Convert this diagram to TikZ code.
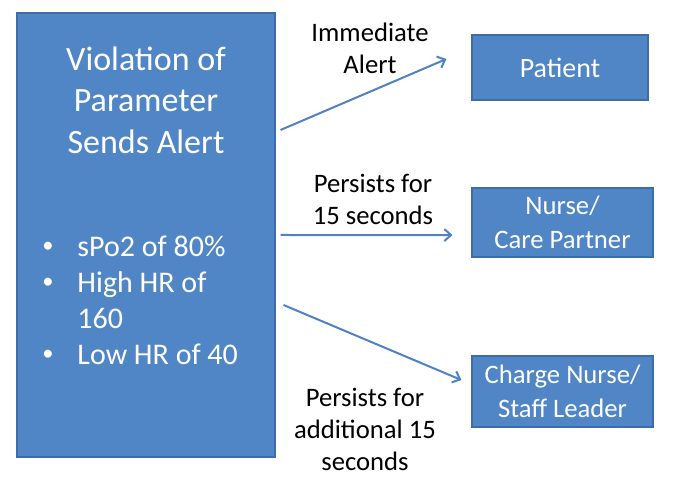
\documentclass[tikz,border=0pt]{standalone}
\usepackage{fontspec}
\setmainfont{Carlito}
\usetikzlibrary{arrows.meta}
\definecolor{boxblue}{RGB}{80,134,198}
\definecolor{boxline}{RGB}{62,108,168}
\definecolor{arrowblue}{RGB}{79,129,195}
\newcommand{\dotmark}{\raisebox{0.12em}{\scalebox{0.75}{\textbullet}}}
\begin{document}
\begin{tikzpicture}[x=0.75pt,y=0.75pt,yscale=-1,xscale=1,
  bluebox/.style={draw=boxline,fill=boxblue,line width=0.8pt,inner sep=0pt,text=white,align=center,font=\fontsize{20}{25}\selectfont},
  flow/.style={draw=arrowblue,line width=1.5pt,-{Straight Barb[length=5pt,width=9pt,line width=1.5pt]}},
  lbl/.style={align=center,inner sep=0.75pt,font=\fontsize{20}{24}\selectfont}]
\useasboundingbox (0,0) rectangle (675,477);

% Shapes
\node [bluebox, minimum width=193.5pt, minimum height=333pt] (viol) at (146,235) {};
\node [bluebox, minimum width=132pt, minimum height=48.75pt, font=\fontsize{21}{25}\selectfont] (patient) at (560,67.5) {Patient};
\node [bluebox, minimum width=135.75pt, minimum height=51.75pt] (nurse) at (562.5,222.5) {Nurse/\\Care Partner};
\node [bluebox, minimum width=135.75pt, minimum height=53.25pt] (charge) at (562.5,391.5) {Charge Nurse/\\Staff Leader};

% Text Node
\node [align=center, text=white, inner sep=0pt, font=\fontsize{25.5}{31}\selectfont] (title) at (146,100) {Violation of\\Parameter\\Sends Alert};
% Text Node
\node [anchor=west, text=white, inner sep=0pt, font=\fontsize{22.5}{27}\selectfont] (limits) at (42,303) {%
  \begin{tabular}{@{}l@{\hspace{18pt}}l@{}}
  \dotmark & sPo2 of 80\% \\
  \dotmark & High HR of \\
   & 160 \\
  \dotmark & Low HR of 40
  \end{tabular}};

%Straight Lines
\draw [flow] ([xshift=3.75pt,yshift=-78.75pt]viol.east) -- ([xshift=-18.75pt,yshift=-6.4pt]patient.west);
\draw [flow] ([xshift=3.75pt]viol.east) -- ([xshift=-14.25pt,yshift=9.4pt]nurse.west);
\draw [flow] ([xshift=6pt,yshift=52.5pt]viol.east) -- ([xshift=-7.5pt,yshift=-8.6pt]charge.west);

% Text Node
\node [lbl] (immediate) at (370,48) {Immediate\\Alert};
% Text Node
\node [lbl] (persist) at (373,199) {Persists for\\15 seconds};
% Text Node
\node [lbl] (additional) at (365,429) {Persists for\\additional 15\\seconds};
\end{tikzpicture}
\end{document}
